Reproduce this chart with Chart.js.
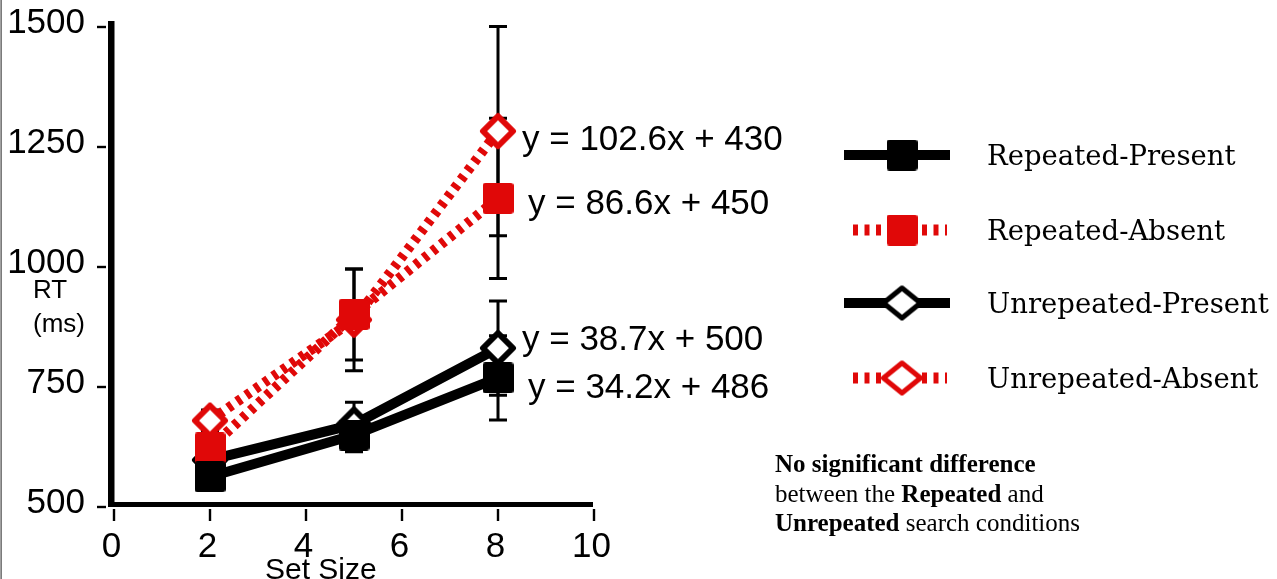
<!DOCTYPE html>
<html>
<head>
<meta charset="utf-8">
<script src="https://cdn.jsdelivr.net/npm/chart.js@4.4.1/dist/chart.umd.min.js"></script>
<style>
  html, body { margin: 0; padding: 0; background: #fff; }
  #caja { width: 1277px; height: 579px; position: relative; }
</style>
</head>
<body>
<div id="caja"><canvas id="grafico"></canvas></div>
<script>
// Datos (RT en ms por tamaño del conjunto)
const setSizes = [2, 5, 8];
const repPresent = [563, 650, 769];
const repAbsent = [623, 901, 1143];
const unrepPresent = [598, 672, 831];
const unrepAbsent = [680, 890, 1283];

// Semiancho de las barras de error (ms)
const errRepPresent = [20, 35, 88];
const errRepAbsent = [22, 95, 167];
const errUnrepPresent = [20, 46, 98];
const errUnrepAbsent = [22, 106, 218];

const xTicks = [0, 2, 4, 6, 8, 10];
const yTicks = [500, 750, 1000, 1250, 1500];

const etiquetasLeyenda = ["Repeated-Present", "Repeated-Absent", "Unrepeated-Present", "Unrepeated-Absent"];
const ecuaciones = ["y = 34.2x + 486", "y = 86.6x + 450", "y = 38.7x + 500", "y = 102.6x + 430"];

const ROJO = "#e00808";
const NEGRO = "#000000";
const SANS = "'Liberation Sans', Arial, sans-serif";

// ---------------------------------------------------------------------------
// Marcadores dibujados en canvas auxiliares
// ---------------------------------------------------------------------------
function hacerCuadrado(color, lado, radio) {
  const c = document.createElement("canvas");
  c.width = lado; c.height = lado;
  const g = c.getContext("2d");
  g.fillStyle = color;
  g.beginPath();
  g.roundRect(0, 0, lado, lado, radio);
  g.fill();
  return c;
}

function hacerRombo(color, semiAncho, semiAlto, grosor) {
  const w = Math.ceil(2 * semiAncho + grosor + 2);
  const h = Math.ceil(2 * semiAlto + grosor + 2);
  const c = document.createElement("canvas");
  c.width = w; c.height = h;
  const g = c.getContext("2d");
  const cx = w / 2, cy = h / 2;
  g.beginPath();
  g.moveTo(cx - semiAncho, cy);
  g.lineTo(cx, cy - semiAlto);
  g.lineTo(cx + semiAncho, cy);
  g.lineTo(cx, cy + semiAlto);
  g.closePath();
  g.fillStyle = "#fff";
  g.fill();
  g.lineWidth = grosor;
  g.lineJoin = "round";
  g.strokeStyle = color;
  g.stroke();
  return c;
}

const marcaRP = hacerCuadrado(NEGRO, 31, 3);
const marcaRA = hacerCuadrado(ROJO, 31, 3);
const marcaUP = hacerRombo(NEGRO, 15, 15, 6);
const marcaUA = hacerRombo(ROJO, 15, 15, 6);

const leyendaMarcas = [
  hacerCuadrado(NEGRO, 31, 3),
  hacerCuadrado(ROJO, 31, 3),
  hacerRombo(NEGRO, 18.5, 15, 5),
  hacerRombo(ROJO, 18.5, 15, 5)
];

const puntos = (vals) => setSizes.map((s, i) => ({ x: s, y: vals[i] }));

// ---------------------------------------------------------------------------
// Plugin: ejes, barras de error, leyenda y textos
// ---------------------------------------------------------------------------
const pluginExtras = {
  id: "extras",
  beforeDatasetsDraw(chart) {
    const { ctx, scales: { x, y } } = chart;
    const x0 = x.getPixelForValue(0);
    const x10 = x.getPixelForValue(10);
    const y0 = y.getPixelForValue(500);
    const y1 = y.getPixelForValue(1500);

    ctx.save();
    ctx.fillStyle = NEGRO;
    // ejes
    ctx.fillRect(x0 - 6, y1 - 6, 6.5, y0 - y1 + 6);
    ctx.fillRect(x0 - 6, y0 - 5, x10 - x0 + 5, 5);
    // marcas de graduación
    yTicks.forEach(v => {
      const py = y.getPixelForValue(v);
      ctx.fillRect(x0 - 17, py - 1.2, 9, 2.4);
    });
    xTicks.forEach(v => {
      const px = x.getPixelForValue(v);
      ctx.fillRect(px - 1.2, y0 + 2, 2.4, 12);
    });

    // barras de error
    const series = [
      [repPresent, errRepPresent],
      [repAbsent, errRepAbsent],
      [unrepPresent, errUnrepPresent],
      [unrepAbsent, errUnrepAbsent]
    ];
    ctx.strokeStyle = NEGRO;
    ctx.lineWidth = 3;
    series.forEach(([vals, errs]) => {
      setSizes.forEach((s, i) => {
        const px = x.getPixelForValue(s);
        const arriba = y.getPixelForValue(vals[i] + errs[i]);
        const abajo = y.getPixelForValue(vals[i] - errs[i]);
        ctx.beginPath();
        ctx.moveTo(px, arriba); ctx.lineTo(px, abajo);
        ctx.moveTo(px - 9, arriba); ctx.lineTo(px + 9, arriba);
        ctx.moveTo(px - 9, abajo); ctx.lineTo(px + 9, abajo);
        ctx.stroke();
      });
    });
    ctx.restore();
  },
  afterDraw(chart) {
    const { ctx } = chart;
    ctx.save();

    // borde izquierdo fino
    ctx.fillStyle = "#444";
    ctx.fillRect(0.5, 0, 1.2, 579);

    ctx.fillStyle = NEGRO;
    // títulos de eje
    ctx.font = "26px " + SANS;
    ctx.textAlign = "left";
    ctx.textBaseline = "middle";
    ctx.fillText("RT", 33, 291);
    ctx.fillText("(ms)", 33, 325);
    ctx.font = "30px " + SANS;
    ctx.textBaseline = "alphabetic";
    ctx.fillText("Set Size", 265, 579);

    // ecuaciones de regresión
    ctx.font = "35px " + SANS;
    ctx.textBaseline = "middle";
    const posEc = [[528, 388], [528, 204], [522, 340], [522, 140]];
    ecuaciones.forEach((t, i) => ctx.fillText(t, posEc[i][0], posEc[i][1]));

    // leyenda
    const filas = [155, 230, 303, 378];
    etiquetasLeyenda.forEach((t, i) => {
      const fy = filas[i];
      const rojo = i === 1 || i === 3;
      ctx.beginPath();
      if (rojo) {
        ctx.strokeStyle = ROJO;
        ctx.lineWidth = 11;
        ctx.setLineDash([5, 6.5]);
        ctx.moveTo(853, fy); ctx.lineTo(947, fy);
      } else {
        ctx.strokeStyle = NEGRO;
        ctx.lineWidth = 10;
        ctx.setLineDash([]);
        ctx.moveTo(844, fy); ctx.lineTo(950, fy);
      }
      ctx.stroke();
      ctx.setLineDash([]);
      const m = leyendaMarcas[i];
      ctx.drawImage(m, 902 - m.width / 2, fy - m.height / 2);
      ctx.fillStyle = NEGRO;
      ctx.font = "27.5px 'DejaVu Serif', serif";
      ctx.textBaseline = "alphabetic";
      ctx.fillText(t, 987, fy + 10);
    });

    // nota
    const lineasNota = [
      [["No significant difference", true]],
      [["between the ", false], ["Repeated", true], [" and", false]],
      [["Unrepeated", true], [" search conditions", false]]
    ];
    const baseNota = [472, 502, 531];
    lineasNota.forEach((tramos, i) => {
      let cx = 775;
      tramos.forEach(([t, negrita]) => {
        ctx.font = (negrita ? "bold " : "") + "25px 'Liberation Serif', serif";
        ctx.fillText(t, cx, baseNota[i]);
        cx += ctx.measureText(t).width;
      });
    });

    ctx.restore();
  }
};

new Chart(document.getElementById("grafico"), {
  type: "scatter",
  data: {
    datasets: [
      {
        label: etiquetasLeyenda[0], data: puntos(repPresent), showLine: true,
        borderColor: NEGRO, borderWidth: 10, pointStyle: marcaRP, pointRadius: 15, order: 0
      },
      {
        label: etiquetasLeyenda[1], data: puntos(repAbsent), showLine: true,
        borderColor: ROJO, borderWidth: 10, borderDash: [5, 6], pointStyle: marcaRA, pointRadius: 15, order: 1
      },
      {
        label: etiquetasLeyenda[2], data: puntos(unrepPresent), showLine: true,
        borderColor: NEGRO, borderWidth: 10, pointStyle: marcaUP, pointRadius: 15, order: 3
      },
      {
        label: etiquetasLeyenda[3], data: puntos(unrepAbsent), showLine: true,
        borderColor: ROJO, borderWidth: 10, borderDash: [5, 6], pointStyle: marcaUA, pointRadius: 15, order: 2
      }
    ]
  },
  options: {
    responsive: true,
    maintainAspectRatio: false,
    animation: false,
    events: [],
    layout: { padding: { left: 0, right: 683, top: 27, bottom: 0 } },
    plugins: { legend: { display: false }, tooltip: { enabled: false } },
    scales: {
      x: {
        type: "linear", min: 0, max: 10,
        afterBuildTicks: (s) => { s.ticks = xTicks.map(v => ({ value: v })); },
        afterFit: (s) => { s.height = 72; s.paddingLeft = 0; s.paddingRight = 0; },
        grid: { display: false, drawTicks: false },
        border: { display: false },
        ticks: {
          font: { family: SANS, size: 35 }, color: NEGRO, padding: 19, labelOffset: -2.5,
          maxRotation: 0, autoSkip: false, callback: (v) => String(v)
        }
      },
      y: {
        type: "linear", min: 500, max: 1500,
        afterBuildTicks: (s) => { s.ticks = yTicks.map(v => ({ value: v })); },
        afterFit: (s) => { s.width = 114; s.paddingTop = 0; s.paddingBottom = 0; },
        grid: { display: false, drawTicks: false },
        border: { display: false },
        ticks: {
          font: { family: SANS, size: 35 }, color: NEGRO, padding: 29, labelOffset: -3.5,
          autoSkip: false, callback: (v) => String(v)
        }
      }
    }
  },
  plugins: [pluginExtras]
});
</script>
</body>
</html>
